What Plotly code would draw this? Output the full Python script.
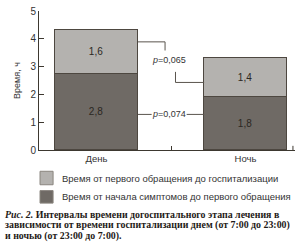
import plotly.graph_objects as go

categories = ["День", "Ночь"]
# bar heights as drawn in the picture (hours)
symptoms_to_contact = [2.72, 1.92]      # dark segment
contact_to_hosp = [1.58, 1.40]          # light segment
label_dark = ["2,8", "1,8"]
label_light = ["1,6", "1,4"]
name_light = "Время от первого обращения до госпитализации"
name_dark = "Время от начала симптомов до первого обращения"
y_ticks = [0, 1, 2, 3, 4, 5]
p_values = ["<i>p</i>=0,065", "<i>p</i>=0,074"]
caption = [
    "<i>Рис. 2.</i> Интервалы времени догоспитального этапа лечения в",
    "зависимости от времени госпитализации днем (от 7:00 до 23:00)",
    "и ночью (от 23:00 до 7:00).",
]

DARK = "#6f6a65"
LIGHT = "#b4b2af"
EDGE = "#4d4740"
AX = "#3d3830"
TXT = "#2b2722"

fig = go.Figure()
fig.add_trace(go.Bar(x=categories, y=symptoms_to_contact, name=name_dark,
                     marker=dict(color=DARK, line=dict(color=EDGE, width=1)),
                     text=label_dark, textposition="inside", insidetextanchor="middle",
                     textangle=0, textfont=dict(size=10, color=TXT, family="Liberation Sans"),
                     width=0.556))
fig.add_trace(go.Bar(x=categories, y=contact_to_hosp, name=name_light,
                     marker=dict(color=LIGHT, line=dict(color=EDGE, width=1)),
                     text=label_light, textposition="inside", insidetextanchor="middle",
                     textangle=0, textfont=dict(size=10, color=TXT, family="Liberation Sans"),
                     width=0.556))

shapes = []
line = dict(color="#5a544d", width=1)
# upper bracket (p=0,065)
shapes.append(dict(type="path", xref="x", yref="y",
                   path="M 0.278 3.89 L 0.46 3.89 L 0.46 3.58", line=line))
shapes.append(dict(type="path", xref="x", yref="y",
                   path="M 0.53 2.81 L 0.53 2.43 L 0.722 2.43", line=line))
# lower bracket (p=0,074)
shapes.append(dict(type="line", xref="x", yref="y", x0=0.278, x1=0.37, y0=1.28, y1=1.28, line=line))
shapes.append(dict(type="line", xref="x", yref="y", x0=0.605, x1=0.722, y0=1.28, y1=1.28, line=line))
# right-end tick of x axis
shapes.append(dict(type="line", xref="paper", yref="paper", x0=0.992, x1=0.992, y0=0, y1=0.03,
                   line=dict(color=AX, width=1)))

# legend (manual)
leg_y = [(-0.153, -0.25), (-0.292, -0.382)]
for (y0, y1), col, nm in zip(leg_y, [LIGHT, DARK], [name_light, name_dark]):
    shapes.append(dict(type="rect", xref="paper", yref="paper", x0=0.004, x1=0.055,
                       y0=y0, y1=y1, fillcolor=col, line=dict(color="#8a857f", width=1)))

annotations = []
for (y0, y1), nm in zip(leg_y, [name_light, name_dark]):
    annotations.append(dict(xref="paper", yref="paper", x=0.082, y=(y0 + y1) / 2,
                            xanchor="left", yanchor="middle", text=nm, showarrow=False,
                            font=dict(size=9.5, color="#333", family="Liberation Sans")))

annotations.append(dict(xref="x", yref="y", x=0.487, y=3.23, text=p_values[0], showarrow=False,
                        font=dict(size=9, color="#333", family="Liberation Sans")))
annotations.append(dict(xref="x", yref="y", x=0.487, y=1.28, text=p_values[1], showarrow=False,
                        font=dict(size=9, color="#333", family="Liberation Sans")))

cap_y = [-0.465, -0.542, -0.618]
for cy, t in zip(cap_y, caption):
    annotations.append(dict(xref="paper", yref="paper", x=-0.141, y=cy, xanchor="left",
                            yanchor="middle", text="<b>" + t + "</b>", showarrow=False,
                            font=dict(size=9.9, color="#1e1a16", family="Liberation Serif")))

fig.update_layout(
    width=300, height=249,
    margin=dict(l=39, r=5, t=6, b=99),
    barmode="stack",
    showlegend=False,
    plot_bgcolor="white", paper_bgcolor="white",
    shapes=shapes, annotations=annotations,
    bargap=0,
    font=dict(family="Liberation Sans", color="#333"),
)
fig.update_xaxes(type="category", range=[-0.386, 1.332], showline=True, linecolor=AX, linewidth=1,
                 ticks="inside", tickson="boundaries", ticklen=4, tickcolor=AX,
                 tickfont=dict(size=9.5, color="#333"), showgrid=False, zeroline=False)
fig.update_yaxes(range=[0, 5], tickvals=y_ticks, showline=True, linecolor=AX, linewidth=1,
                 ticks="inside", ticklen=5, tickcolor=AX, tickfont=dict(size=10, color="#333"),
                 showgrid=False, zeroline=False,
                 title=dict(text="Время, ч", font=dict(size=9, color="#333"), standoff=8))

fig.write_html("out.html")
